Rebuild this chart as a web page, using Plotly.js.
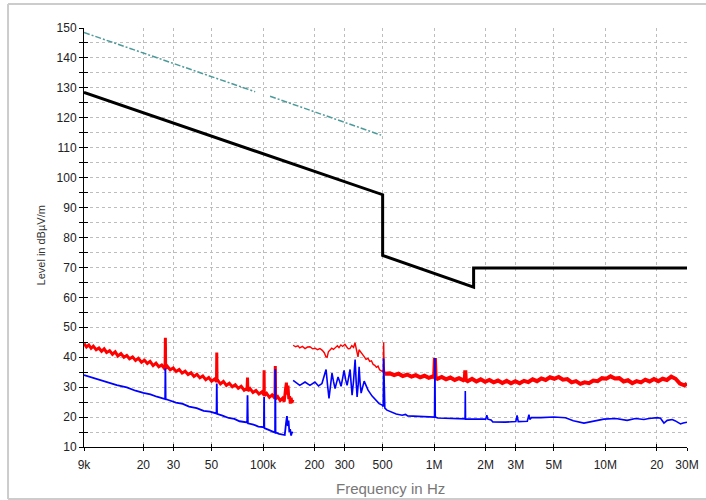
<!DOCTYPE html>
<html>
<head>
<meta charset="utf-8">
<script src="https://cdn.plot.ly/plotly-3.0.1.min.js"></script>
<style>html,body{margin:0;padding:0;background:#fff;}#chart{width:706px;height:500px;}</style>
</head>
<body>
<div id="chart"></div>
<script>
// ---- Data (frequencies in kHz, levels in dBµV/m) ----
const limitFreq = [9, 500, 500, 1700, 1700, 30000];
const limitLevel = [128.5, 94.3, 74.0, 63.4, 69.8, 69.8];

const refFreq = [9, 90, 100, 110, 490];
const refLevel = [148.5, 128.7, null, 127.2, 114.2];

const peak1Freq = [9,9.3,9.6,9.9,10.2,10.6,11.0,11.4,11.8,12.2,12.7,13.2,13.7,14.2,14.8,15.4,16.0,16.6,17.3,18.0,18.7,19.5,20.3,21.1,21.9,22.8,23.7,24.6,25.6,26.5,26.8,26.9,27.0,27.6,28.7,29.9,31.1,32.4,33.7,35.1,36.5,38.0,39.5,41.1,42.8,44.5,46.3,48.2,50.1,52.1,53.5,53.7,53.9,54.2,56.4,58.7,61.1,63.6,66.2,68.9,71.7,74.6,77.6,80.7,81.2,81.7,84.0,87.4,91.0,94.7,98.5,101.2,101.5,101.8,105,109,113,117.5,118,118.5,122,126,130,133,135.5,137,138.5,140,141.5,143,144.5,146,147.5,149.5];
const peak1Level = [44.6,43.4,44.1,43.0,43.7,42.5,43.1,42.0,42.8,41.6,42.2,41.0,41.8,40.4,41.2,40.0,40.6,39.5,40.1,38.9,39.6,38.3,39.0,37.9,38.6,37.2,38.0,36.8,37.4,36.3,36.8,46.5,36.2,37.0,35.8,36.4,35.2,35.9,34.7,35.3,34.2,34.8,33.6,34.3,33.1,33.7,32.5,33.2,32.0,32.7,31.9,41.6,31.6,32.4,31.1,31.9,30.6,31.3,30.1,30.8,29.6,30.3,29.0,29.6,33.2,28.7,29.5,28.2,28.9,27.7,28.4,27.4,35.6,27.1,27.9,26.6,27.4,26.2,37.1,26.0,26.8,25.5,26.3,25.2,29.5,31.5,27.5,30.5,26.0,27.0,24.5,26.5,24.8,25.8];

const peak2Freq = [150,155,160,164,170,176,182,188,195,202,208,215,222,228,233,237,241,246,252,258,265,272,278,285,292,301,308,315,322,330,338,345,350,355,359,364,370,379,390,400,411,420,430,440,450,460,470,480,490,500,504,507,510,515];
const peak2Level = [44.0,43.5,43.8,43.1,43.6,42.9,43.4,43.5,42.8,43.0,42.5,42.9,42.3,41.5,40.2,40.0,41.8,42.4,43.0,42.6,43.4,43.8,43.2,44.1,43.6,44.3,43.5,42.8,42.9,43.9,43.3,44.8,43.0,41.0,40.1,42.5,42.0,41.4,40.2,39.3,39.6,38.6,38.8,37.6,37.3,36.6,37.0,35.8,35.6,35.2,36.0,45.0,36.5,34.5];

const peak3Freq = [515,551,584,619,656,695,737,781,828,877,930,985,1000,1010,1020,1044,1107,1173,1243,1318,1397,1481,1510,1520,1530,1570,1664,1764,1870,1982,2101,2227,2360,2502,2652,2811,2980,3158,3348,3549,3762,3987,4227,4480,4749,5034,5336,5656,5995,6355,6736,7141,7569,8023,8505,9015,9556,10129,10737,11381,12064,12788,13555,14369,15231,16145,17113,18140,19229,20382,21605,22902,24276,25732,27276,28913,30000];
const peak3Level = [34.5,34.6,34.0,34.5,33.7,34.2,33.5,34.0,33.3,33.8,33.1,33.6,33.2,39.7,33.0,32.8,33.4,32.6,33.2,32.4,33.0,32.3,32.6,35.6,32.4,32.0,32.8,31.9,32.6,31.8,32.4,31.6,32.2,31.4,32.1,31.3,32.0,31.3,32.1,31.7,32.6,32.0,32.9,32.4,33.3,32.8,33.4,32.5,32.7,31.6,32.0,31.1,31.6,31.3,32.2,32.0,33.0,32.8,33.6,32.9,33.0,31.9,32.3,31.3,32.0,31.6,32.5,31.9,32.7,32.0,32.8,32.4,33.5,32.8,31.2,30.6,31.2];

const avg1Freq = [9,10,11,12.5,14,16,18,20,22,24,26.8,26.9,27.0,28,31,34,37,41,45,49,53.5,53.7,53.9,58,63,68,73,80.8,81.2,81.6,88,94,101.2,101.5,101.8,108,113,117.6,118,118.4,124,130,134,136,138,139.5,141,142.5,144,146,147.5,149.5];
const avg1Level = [34.0,33.2,32.6,31.6,30.7,29.9,28.8,28.1,27.6,26.8,26.0,36.2,26.0,25.7,24.8,24.4,23.5,23.0,22.1,21.8,21.2,31.2,21.1,20.5,19.7,19.4,18.6,18.2,27.3,17.9,17.5,16.8,16.6,26.7,16.3,15.7,15.3,14.8,36.0,14.9,14.4,14.3,14.0,17.5,20.3,17.0,18.8,15.0,16.0,13.8,15.0,14.6];

const avg2Freq = [150,164,176,188,201,211,221,227,233.6,238,243,248,253,258,263.6,269,274.4,280,285.8,292,297.6,304,309.9,316,322.7,327,331.5,338,345.3,350,354.6,360,364.3,369,374.5,390,411,434,458,477,497,504,507,510,515,530,560,600,650,680,700,760,800,900,990,1005,1010,1015,1050,1150,1300,1500,1515,1520,1525,1600,1800,2000,2030,2060,2150,2200,2600,3000,3050,3100,3500,3580,3620,3700,4200,5000,5850,6500,7500,8200,9800,11500,13400,15000,16800,18000,20100,21000,22000,23000,24600,25500,26500,27500,28500,30000];
const avg2Level = [32.3,30.6,31.7,30.6,31.7,30.4,31.2,33.5,35.9,31.0,26.2,30.5,34.7,32.0,29.5,31.5,33.4,32.0,30.3,33.0,35.6,32.5,30.6,33.0,35.9,31.5,27.3,32.0,39.2,32.0,26.7,31.0,36.8,31.5,28.0,32.0,29.0,27.0,25.6,24.5,24.0,23.5,39.6,24.0,23.0,22.3,21.6,21.0,20.6,20.9,20.4,20.3,20.2,19.9,19.9,20.0,39.7,20.0,19.7,19.6,19.5,19.4,19.4,28.7,19.3,19.3,19.2,19.3,20.6,19.3,19.0,18.4,18.3,18.5,20.6,18.5,18.6,20.8,19.2,19.8,19.8,20.0,19.8,18.8,18.0,18.5,19.3,19.5,18.9,19.5,19.2,19.5,19.8,19.6,18.0,18.9,19.2,18.8,18.2,17.7,18.0,18.3];

// Tick definitions
const xTickKHz = [9,20,30,50,100,200,300,500,1000,2000,3000,5000,10000,20000,30000];
const xTickText = ['9k','20','30','50','100k','200','300','500','1M','2M','3M','5M','10M','20','30M'];
const yTickVals = [10,15,20,25,30,35,40,45,50,55,60,65,70,75,80,85,90,95,100,105,110,115,120,125,130,135,140,145,150];
const yTickText = yTickVals.map(v => v % 10 === 0 ? String(v) : '');

const hz = a => a.map(v => v * 1000);

const font = 'Liberation Sans, Arial, sans-serif';

const traces = [
  {x: hz(peak1Freq), y: peak1Level, mode: 'lines', line: {color: '#ff0000', width: 3}, hoverinfo: 'skip'},
  {x: hz(peak2Freq), y: peak2Level, mode: 'lines', line: {color: '#ff0000', width: 1.4}, hoverinfo: 'skip'},
  {x: hz(peak3Freq), y: peak3Level, mode: 'lines', line: {color: '#ff0000', width: 4}, hoverinfo: 'skip'},
  {x: hz(avg1Freq), y: avg1Level, mode: 'lines', line: {color: '#0000ff', width: 1.8}, hoverinfo: 'skip'},
  {x: hz(avg2Freq), y: avg2Level, mode: 'lines', line: {color: '#0000ff', width: 1.6}, hoverinfo: 'skip'},
  {x: hz(limitFreq), y: limitLevel, mode: 'lines', line: {color: '#000000', width: 3}, hoverinfo: 'skip'},
  {x: hz(refFreq), y: refLevel, mode: 'lines', connectgaps: false, line: {color: '#4e9a9a', width: 1.5, dash: '6px,2px,2px,2px'}, hoverinfo: 'skip'},
  {x: [], y: [], xaxis: 'x2', yaxis: 'y2', hoverinfo: 'skip'}
];

const xr = [Math.log10(9000), Math.log10(3e7)];
const layout = {
  width: 706, height: 500,
  margin: {l: 84, r: 19, t: 28, b: 53},
  paper_bgcolor: '#ffffff', plot_bgcolor: '#ffffff',
  showlegend: false,
  font: {family: font, size: 12, color: '#222'},
  xaxis: {
    type: 'log', range: xr,
    tickmode: 'array', tickvals: hz(xTickKHz), ticktext: xTickText,
    ticks: 'outside', ticklen: 3, tickwidth: 1, tickcolor: '#000',
    ticklabelstandoff: 4,
    showgrid: true, gridcolor: '#bdbdbd', griddash: 'dot', gridwidth: 1,
    showline: true, linecolor: '#000', linewidth: 1,
    zeroline: false, tickfont: {family: font, size: 12, color: '#222'}
  },
  xaxis2: {
    type: 'log', range: xr, overlaying: 'x', anchor: 'y2',
    tickmode: 'array', tickvals: hz(xTickKHz),
    ticks: 'inside', ticklen: 3, tickwidth: 1, tickcolor: '#000',
    showticklabels: false, showgrid: false, showline: false, zeroline: false
  },
  yaxis: {
    range: [10, 150],
    tickmode: 'array', tickvals: yTickVals, ticktext: yTickText,
    ticks: 'outside', ticklen: 4, tickwidth: 1, tickcolor: '#000',
    showgrid: true, gridcolor: '#bdbdbd', griddash: 'dot', gridwidth: 1,
    showline: true, linecolor: '#000', linewidth: 1,
    zeroline: false, tickfont: {family: font, size: 12, color: '#222'}
  },
  yaxis2: {
    range: [10, 150], overlaying: 'y', anchor: 'x2',
    tickmode: 'array', tickvals: yTickVals,
    ticks: 'inside', ticklen: 4, tickwidth: 1, tickcolor: '#000',
    showticklabels: false, showgrid: false, showline: false, zeroline: false
  },
  annotations: [
    {text: 'Level in dBµV/m', xref: 'paper', yref: 'paper', x: -0.072, y: 0.48,
     xanchor: 'center', yanchor: 'middle', textangle: -90, showarrow: false,
     font: {family: font, size: 11, color: '#333'}},
    {text: 'Frequency in Hz', xref: 'paper', yref: 'paper', x: 0.509, y: -0.098,
     xanchor: 'center', yanchor: 'middle', showarrow: false,
     font: {family: font, size: 15, color: '#777'}}
  ],
  shapes: [
    {type: 'line', xref: 'paper', yref: 'paper', x0: -0.126, x1: 1.04, y0: 1.057, y1: 1.057, line: {color: '#cccccc', width: 2}},
    {type: 'line', xref: 'paper', yref: 'paper', x0: -0.126, x1: -0.126, y0: 1.057, y1: -0.124, line: {color: '#cccccc', width: 2}},
    {type: 'line', xref: 'paper', yref: 'paper', x0: -0.126, x1: 1.04, y0: -0.124, y1: -0.124, line: {color: '#cccccc', width: 2}}
  ]
};

Plotly.newPlot('chart', traces, layout, {staticPlot: true, displayModeBar: false});
</script>
</body>
</html>
